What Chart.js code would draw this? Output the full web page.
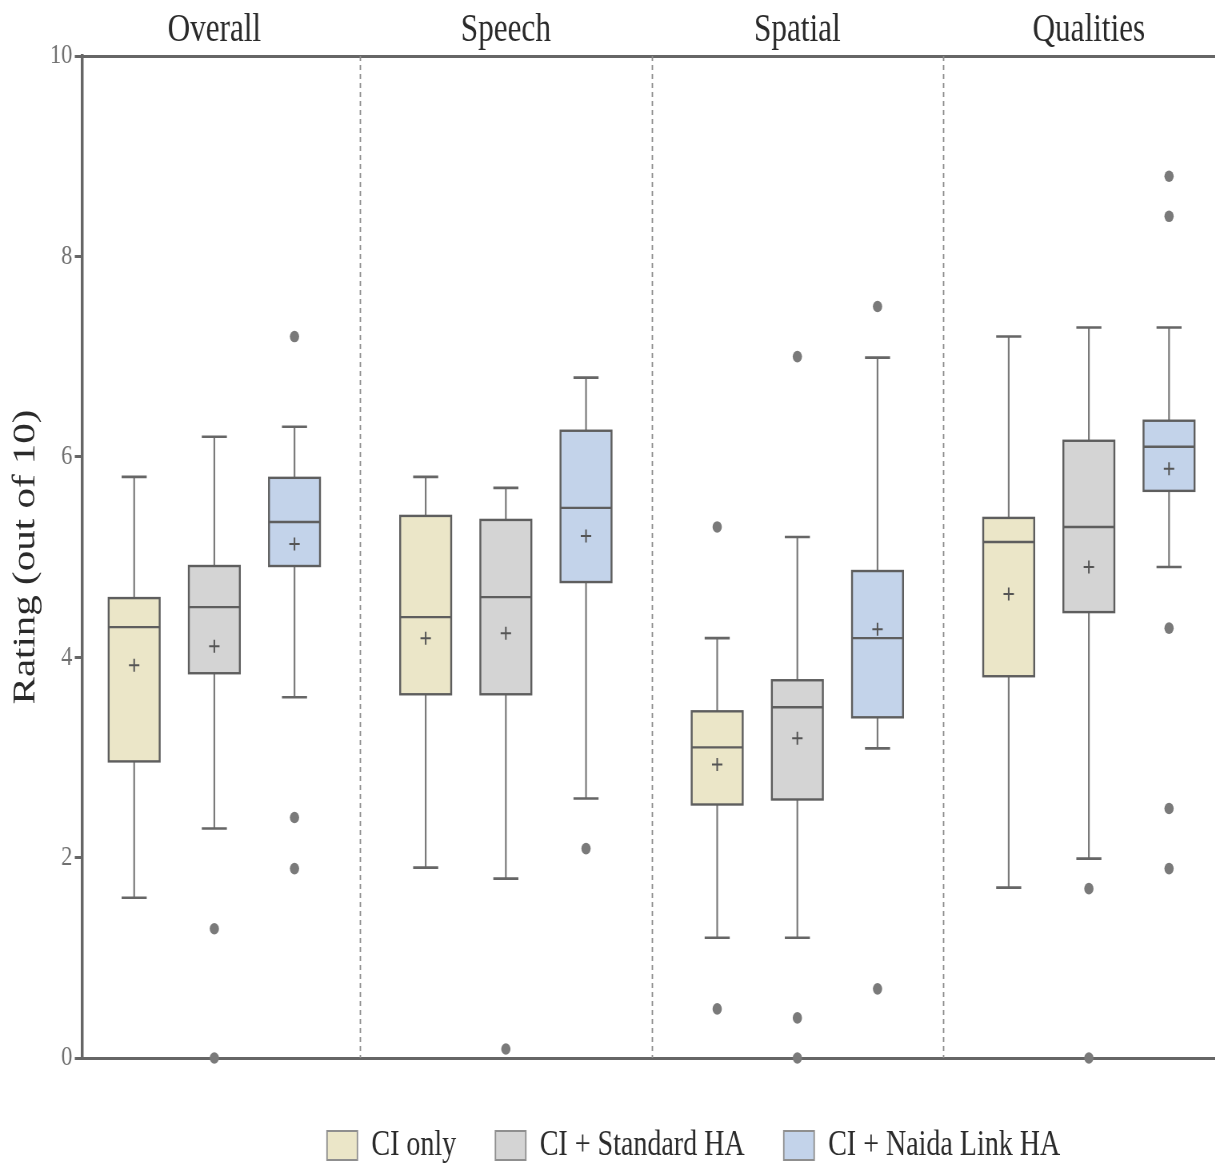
<!DOCTYPE html>
<html><head><meta charset="utf-8">
<script src="https://cdn.jsdelivr.net/npm/chart.js@4.4.1/dist/chart.umd.min.js"></script>
<style>
html,body{margin:0;padding:0;background:#fff;overflow:hidden;width:1215px;height:1165px}
#wrap{position:absolute;left:0;top:0;width:1734px;height:1165px;transform:scaleX(0.8);transform-origin:0 0}
canvas{display:block}
</style></head><body>
<div id="wrap"><canvas id="c" width="1734" height="1165" style="width:1734px;height:1165px"></canvas></div>
<script>
// ---- data ----
const categories = ['Overall', 'Speech', 'Spatial', 'Qualities'];
const seriesNames = ['CI only', 'CI + Standard HA', 'CI + Naida Link HA'];
const yTicks = [0, 2, 4, 6, 8, 10];
// [series][category]
const whiskerLow = [[1.6, 1.9, 1.2, 1.7], [2.29, 1.79, 1.2, 1.99], [3.6, 2.59, 3.09, 4.9]];
const quartile1 = [[2.96, 3.63, 2.53, 3.81], [3.84, 3.63, 2.58, 4.45], [4.91, 4.75, 3.4, 5.66]];
const medians = [[4.3, 4.4, 3.1, 5.15], [4.5, 4.6, 3.5, 5.3], [5.35, 5.49, 4.19, 6.1]];
const quartile3 = [[4.59, 5.41, 3.46, 5.39], [4.91, 5.37, 3.77, 6.16], [5.79, 6.26, 4.86, 6.36]];
const whiskerHigh = [[5.8, 5.8, 4.19, 7.2], [6.2, 5.69, 5.2, 7.29], [6.3, 6.79, 6.99, 7.29]];
const means = [[3.92, 4.19, 2.93, 4.63], [4.11, 4.24, 3.19, 4.9], [5.13, 5.21, 4.28, 5.88]];
const outliers = [
  [[], [], [5.3, 0.49], []],
  [[1.29, 0], [0.09], [7.0, 0.4, 0], [1.69, 0]],
  [[7.2, 2.4, 1.89], [2.09], [7.5, 0.69], [8.8, 8.4, 4.29, 2.49, 1.89]]
];

// ---- styles ----
const fills = ['#ebe6c8', '#d4d4d4', '#c3d3ea'];
const FONT = "'Liberation Serif', 'Times New Roman', serif";
const SERIES_OFFSET = 0.275, BOX_WIDTH = 0.175, CAP_WIDTH = 0.086;
const X_MIN = -0.454, X_MAX = 4.0;

const posX = (si, gi) => gi + (si - 1) * SERIES_OFFSET;

const boxPlugin = {
  id: 'boxes',
  beforeDatasetsDraw(chart) {
    const {ctx, chartArea, scales: {x, y}} = chart;
    ctx.save();
    // dashed group dividers
    ctx.beginPath();
    ctx.setLineDash([5, 4]);
    ctx.strokeStyle = '#8c8c8c';
    ctx.lineWidth = 1.8;
    for (let i = 1; i < categories.length; i++) {
      const px = Math.round(x.getPixelForValue(i - 0.5)) + 0.5;
      ctx.moveTo(px, chartArea.top);
      ctx.lineTo(px, chartArea.bottom);
    }
    ctx.stroke();
    ctx.setLineDash([]);
    const unit = x.getPixelForValue(1) - x.getPixelForValue(0);
    const half = unit * BOX_WIDTH / 2, capHalf = unit * CAP_WIDTH / 2;
    seriesNames.forEach((s, si) => {
      categories.forEach((c, gi) => {
        const xc = x.getPixelForValue(posX(si, gi));
        const yLo = y.getPixelForValue(whiskerLow[si][gi]);
        const yQ1 = y.getPixelForValue(quartile1[si][gi]);
        const yMed = y.getPixelForValue(medians[si][gi]);
        const yQ3 = y.getPixelForValue(quartile3[si][gi]);
        const yHi = y.getPixelForValue(whiskerHigh[si][gi]);
        // whisker stems
        ctx.strokeStyle = '#7a7a7a';
        ctx.lineWidth = 2.2;
        ctx.beginPath();
        ctx.moveTo(xc, yQ3); ctx.lineTo(xc, yHi);
        ctx.moveTo(xc, yQ1); ctx.lineTo(xc, yLo);
        ctx.stroke();
        // caps
        ctx.strokeStyle = '#666';
        ctx.lineWidth = 2.6;
        ctx.beginPath();
        ctx.moveTo(xc - capHalf, yHi); ctx.lineTo(xc + capHalf, yHi);
        ctx.moveTo(xc - capHalf, yLo); ctx.lineTo(xc + capHalf, yLo);
        ctx.stroke();
        // box
        ctx.fillStyle = fills[si];
        ctx.fillRect(xc - half, yQ3, half * 2, yQ1 - yQ3);
        ctx.strokeStyle = '#5e5e5e';
        ctx.lineWidth = 2.4;
        ctx.strokeRect(xc - half, yQ3, half * 2, yQ1 - yQ3);
        // median
        ctx.beginPath();
        ctx.moveTo(xc - half, yMed); ctx.lineTo(xc + half, yMed);
        ctx.stroke();
      });
    });
    ctx.restore();
  }
};

const datasets = [];
seriesNames.forEach((name, si) => {
  datasets.push({
    label: name,
    data: categories.flatMap((c, gi) => outliers[si][gi].map(v => ({x: posX(si, gi), y: v}))),
    pointStyle: 'circle',
    pointRadius: 5.8,
    backgroundColor: '#7a7a7a',
    borderWidth: 0,
    clip: false
  });
});
seriesNames.forEach((name, si) => {
  datasets.push({
    label: name + ' mean',
    data: categories.map((c, gi) => ({x: posX(si, gi), y: means[si][gi]})),
    pointStyle: 'cross',
    pointRadius: 6.5,
    borderColor: '#555',
    borderWidth: 2,
    clip: false
  });
});

function draw() {
  new Chart(document.getElementById('c'), {
    type: 'scatter',
    data: {datasets},
    plugins: [boxPlugin],
    options: {
      responsive: false,
      animation: false,
      devicePixelRatio: 1,
      events: [],
      layout: {padding: 0},
      scales: {
        x: {
          type: 'linear', position: 'top', min: X_MIN, max: X_MAX,
          afterBuildTicks: s => { s.ticks = categories.map((c, i) => ({value: i})); },
          afterFit: s => { s.height = 56; },
          ticks: {
            autoSkip: false, maxRotation: 0, padding: 2, color: '#2a2a2a',
            font: {family: FONT, size: 39},
            callback: v => categories[v]
          },
          grid: {display: false, drawTicks: false},
          border: {display: true, width: 3, color: '#666'}
        },
        x2: {
          type: 'linear', axis: 'x', position: 'bottom', min: X_MIN, max: X_MAX,
          afterFit: s => { s.height = 21; },
          ticks: {display: false},
          grid: {display: false, drawTicks: false},
          border: {display: true, width: 3, color: '#666'}
        },
        y: {
          type: 'linear', position: 'left', min: 0, max: 10,
          afterBuildTicks: s => { s.ticks = yTicks.map(v => ({value: v})); },
          afterFit: s => { s.width = 102.5; },
          ticks: {padding: 3, color: '#707070', font: {family: FONT, size: 28}},
          grid: {display: true, drawOnChartArea: false, drawTicks: true, tickLength: 9, tickWidth: 3, tickColor: '#666'},
          border: {display: true, width: 3.5, color: '#666'},
          title: {
            display: true, text: 'Rating (out of 10)', color: '#2a2a2a',
            font: {family: FONT, size: 41}, padding: {top: 8, bottom: 0}
          }
        }
      },
      plugins: {
        tooltip: {enabled: false},
        legend: {
          display: true, position: 'bottom', maxHeight: 86,
          labels: {
            boxWidth: 38, boxHeight: 29, padding: 49, color: '#2a2a2a',
            font: {family: FONT, size: 35},
            generateLabels: () => seriesNames.map((n, i) => ({
              text: n, fillStyle: fills[i], strokeStyle: '#8f8f8f', lineWidth: 1.8,
              hidden: false, datasetIndex: i, fontColor: '#2a2a2a'
            }))
          }
        }
      }
    }
  });
}
if (document.fonts && document.fonts.load) {
  Promise.all([document.fonts.load("38px 'Liberation Serif'")]).then(draw, draw);
} else { draw(); }
</script>
</body></html>
